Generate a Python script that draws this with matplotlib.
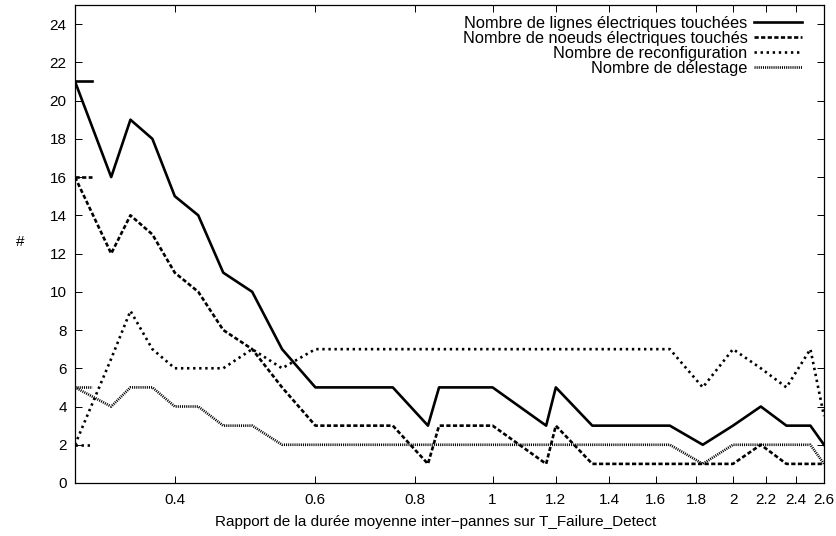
import matplotlib.pyplot as plt
from matplotlib.ticker import NullLocator

plt.rcParams['font.family'] = ['Liberation Sans', 'DejaVu Sans']

# ratio mean inter-failure duration / T_Failure_Detect
ratio = [0.30, 0.333, 0.352, 0.375, 0.40, 0.428, 0.46, 0.50, 0.545, 0.60,
         0.75, 0.83, 0.857, 1.0, 1.167, 1.2, 1.333, 1.667, 1.833, 2.0,
         2.167, 2.333, 2.5, 2.6]
lignes = [21, 16, 19, 18, 15, 14, 11, 10, 7, 5,
          5, 3, 5, 5, 3, 5, 3, 3, 2, 3,
          4, 3, 3, 2]
noeuds = [16, 12, 14, 13, 11, 10, 8, 7, 5, 3,
          3, 1, 3, 3, 1, 3, 1, 1, 1, 1,
          2, 1, 1, 1]
reconfig = [2, 6.5, 9, 7, 6, 6, 6, 7, 6, 7,
            7, 7, 7, 7, 7, 7, 7, 7, 5, 7,
            6, 5, 7, 3.5]
delestage = [5, 4, 5, 5, 4, 4, 3, 3, 2, 2,
             2, 2, 2, 2, 2, 2, 2, 2, 1, 2,
             2, 2, 2, 1]

labels = ['Nombre de lignes électriques touchées',
          'Nombre de noeuds électriques touchés',
          'Nombre de reconfiguration',
          'Nombre de délestage']
x_ticks = [0.4, 0.6, 0.8, 1, 1.2, 1.4, 1.6, 1.8, 2, 2.2, 2.4, 2.6]
x_tick_labels = ['0.4', '0.6', '0.8', '1', '1.2', '1.4', '1.6', '1.8',
                 '2', '2.2', '2.4', '2.6']
y_ticks = list(range(0, 25, 2))

fig = plt.figure(figsize=(8.37, 5.36), dpi=100)
ax = fig.add_axes([75 / 837, 1 - 483 / 536, 749 / 837, 478 / 536])

series = [lignes, noeuds, reconfig, delestage]
dash_styles = ['-', (0, (1.6, 0.9)), (0, (0.9, 1.4)), (0, (0.4, 0.4))]

for values, label, ls in zip(series, labels, dash_styles):
    ax.plot(ratio, values, color='black', lw=1.9, linestyle=ls, label=label)
    # short horizontal mark at the first point (as in the gnuplot output)
    ax.plot([ratio[0], ratio[0] * 1.05], [values[0], values[0]],
            color='black', lw=1.9, linestyle=ls)

ax.set_xscale('log')
ax.set_xlim(0.3, 2.6)
ax.set_ylim(0, 25)
ax.set_xticks(x_ticks)
ax.set_xticklabels(x_tick_labels)
ax.xaxis.set_minor_locator(NullLocator())
ax.set_yticks(y_ticks)

ax.tick_params(direction='in', top=True, right=True, length=5, width=0.7,
               labelsize=11, pad=6)
ax.tick_params(axis='x', pad=7)
for s in ax.spines.values():
    s.set_linewidth(0.9)

ax.set_xlabel('Rapport de la durée moyenne inter−pannes sur T_Failure_Detect',
              fontsize=11, labelpad=6)
ax.xaxis.label.set_x(0.481)
ax.set_ylabel('#', fontsize=11, rotation=0, va='center')
ax.yaxis.set_label_coords(-0.073, 0.504)

ax.legend(loc='upper right', bbox_to_anchor=(0.9706, 0.977), frameon=False,
          markerfirst=False, fontsize=11.8, handlelength=2.9,
          handletextpad=0.42, labelspacing=0.0, borderpad=0,
          borderaxespad=0)

plt.savefig('out.png', dpi=100)
